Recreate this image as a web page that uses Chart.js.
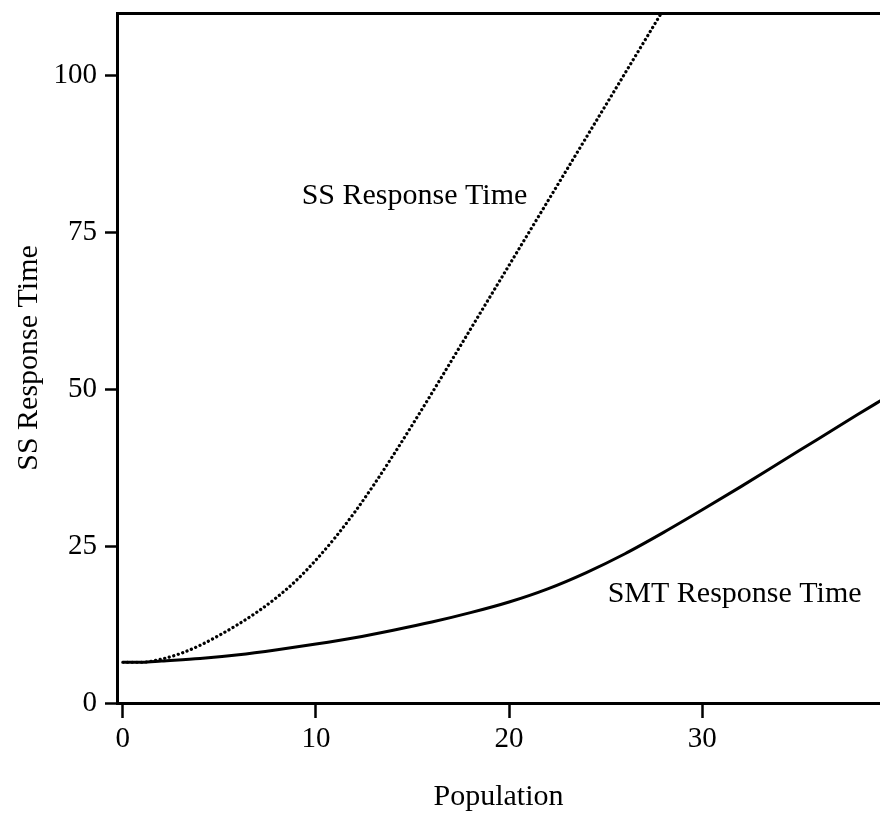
<!DOCTYPE html>
<html>
<head>
<meta charset="utf-8">
<script src="https://cdn.jsdelivr.net/npm/chart.js@4/dist/chart.umd.min.js"></script>
<style>
  html, body { margin: 0; padding: 0; background: #fff; }
  canvas { display: block; }
</style>
</head>
<body>
<canvas id="myChart" width="880" height="815"></canvas>
<script>
// values
const population = [0, 1, 2, 3, 4, 5, 6, 7, 8, 9, 10, 11, 12, 13, 14, 15, 16, 17, 18, 19, 20, 21, 22, 23, 24, 25, 26, 27, 28, 29]
const ssTime = [6.5, 6.5, 7.0, 7.9, 9.2, 10.8, 12.6, 14.6, 16.9, 19.6, 22.8, 26.4, 30.4, 34.8, 39.5, 44.4, 49.4, 54.5, 59.6, 64.7, 69.8, 74.9, 80.0, 85.1, 90.2, 95.3, 100.4, 105.5, 110.6, 115.7]

const smtPopulation = [0, 1, 2, 4, 6, 8, 10, 12, 14, 16, 18, 20, 22, 24, 26, 28, 30, 32, 34, 36, 38, 39.5]
const smtTime = [6.5, 6.5, 6.7, 7.1, 7.7, 8.5, 9.4, 10.4, 11.6, 12.9, 14.4, 16.1, 18.2, 20.8, 23.8, 27.2, 30.8, 34.5, 38.3, 42.1, 45.9, 48.7]

const xTicks = [0, 10, 20, 30]
const yTicks = [0, 25, 50, 75, 100]
const xTitle = 'Population'
const yTitle = 'SS Response Time'

// curve labels, anchored in data units (left edge, baseline)
const curveLabels = [
  { text: 'SS Response Time', x: 9.26, y: 79.6 },
  { text: 'SMT Response Time', x: 25.1, y: 16.1 }
]

const serif = 'Liberation Serif, Times New Roman, serif'

function toPoints(xs, ys) {
  return xs.map((x, i) => ({ x: x, y: ys[i] }))
}

function noPadding(s) {
  s.paddingTop = 0
  s.paddingBottom = 0
  s.paddingLeft = 0
  s.paddingRight = 0
}

const labelPlugin = {
  id: 'curveLabels',
  afterDatasetsDraw(chart) {
    const ctx = chart.ctx
    const xs = chart.scales.x
    const ys = chart.scales.y
    ctx.save()
    ctx.fillStyle = '#000'
    ctx.font = '30px ' + serif
    ctx.textAlign = 'left'
    ctx.textBaseline = 'alphabetic'
    curveLabels.forEach((l) => {
      ctx.fillText(l.text, xs.getPixelForValue(l.x), ys.getPixelForValue(l.y))
    })
    ctx.restore()
  }
}

function initChart() {
  const ctx = document.getElementById('myChart')

  const data = {
    datasets: [
      {
        label: 'SS Response Time',
        data: toPoints(population, ssTime),
        borderColor: '#000',
        borderWidth: 3.2,
        borderDash: [0.1, 4.6],
        borderCapStyle: 'round',
        pointRadius: 0,
        cubicInterpolationMode: 'monotone',
        fill: false
      },
      {
        label: 'SMT Response Time',
        data: toPoints(smtPopulation, smtTime),
        borderColor: '#000',
        borderWidth: 3,
        pointRadius: 0,
        cubicInterpolationMode: 'monotone',
        fill: false
      }
    ]
  }

  const config = {
    type: 'line',
    data: data,
    plugins: [labelPlugin],
    options: {
      responsive: false,
      animation: false,
      devicePixelRatio: 1,
      layout: { padding: { top: 13, right: 0, bottom: 0, left: 0 } },
      plugins: {
        legend: { display: false },
        tooltip: { enabled: false }
      },
      scales: {
        x: {
          type: 'linear',
          position: 'bottom',
          min: -0.3,
          max: 39.2,
          afterFit: (s) => { s.height = 112; noPadding(s) },
          afterBuildTicks: (s) => { s.ticks = xTicks.map((v) => ({ value: v })) },
          border: { display: true, color: '#000', width: 3 },
          grid: { display: true, drawOnChartArea: false, drawTicks: true, tickLength: 15, tickWidth: 2.5, tickColor: '#000' },
          ticks: { color: '#000', font: { family: serif, size: 29 }, padding: 4, maxRotation: 0 },
          title: { display: true, text: xTitle, color: '#000', font: { family: serif, size: 30 }, padding: { top: 0, bottom: 0 } }
        },
        top: {
          type: 'linear',
          position: 'top',
          min: -0.3,
          max: 39.2,
          afterFit: (s) => { s.height = 0; noPadding(s) },
          border: { display: true, color: '#000', width: 3 },
          grid: { display: false, drawTicks: false },
          ticks: { display: false }
        },
        y: {
          type: 'linear',
          position: 'left',
          min: 0,
          max: 110,
          afterFit: (s) => { s.width = 117; noPadding(s) },
          afterBuildTicks: (s) => { s.ticks = yTicks.map((v) => ({ value: v })) },
          border: { display: true, color: '#000', width: 3 },
          grid: { display: true, drawOnChartArea: false, drawTicks: true, tickLength: 12, tickWidth: 2.5, tickColor: '#000' },
          ticks: { color: '#000', font: { family: serif, size: 29 }, padding: 8 },
          title: { display: true, text: yTitle, color: '#000', font: { family: serif, size: 30 }, padding: { top: 11, bottom: 0 } }
        }
      }
    }
  }
  // eslint-disable-next-line no-undef
  new Chart(ctx, config)
}

initChart()
</script>
</body>
</html>
